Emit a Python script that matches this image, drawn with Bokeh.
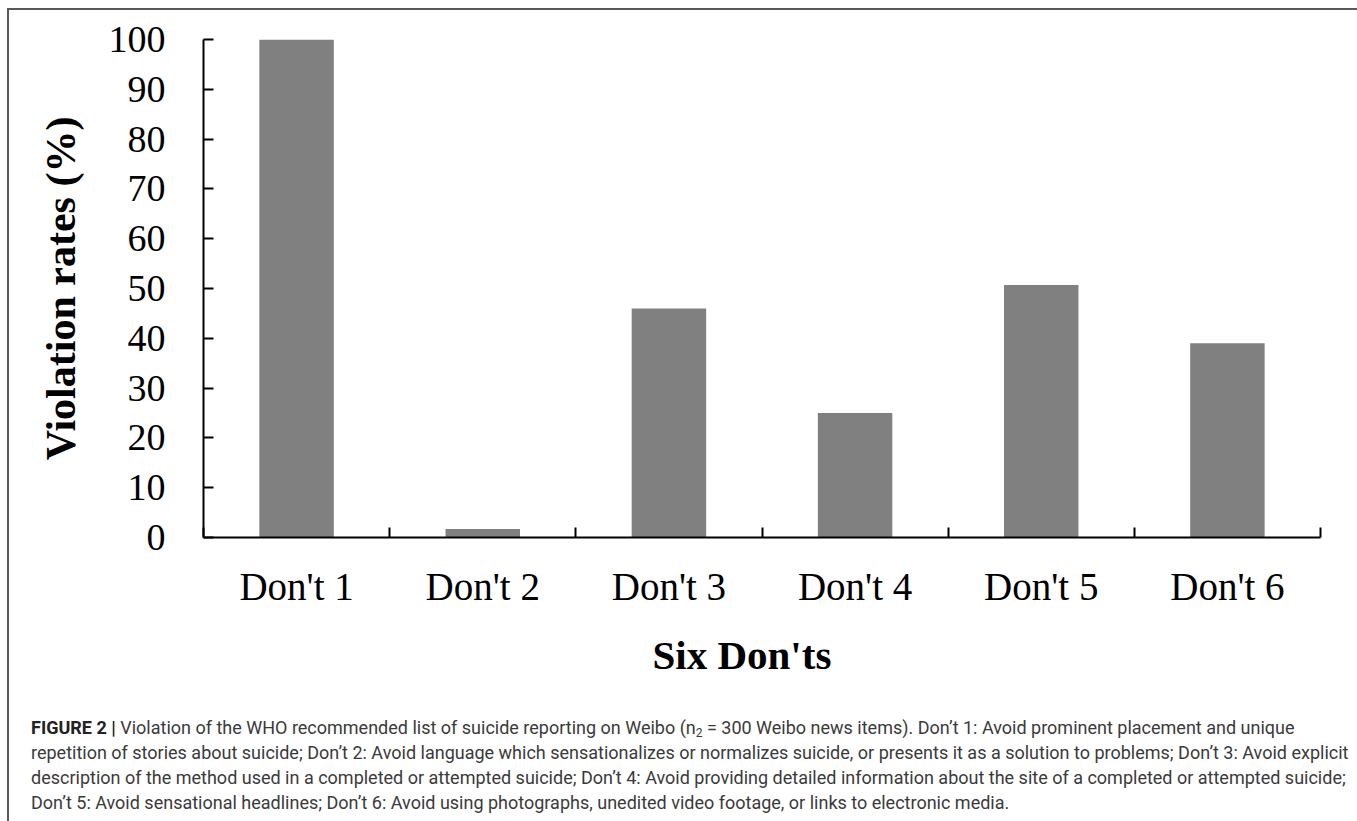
from bokeh.plotting import figure
from bokeh.models import Range1d, FixedTicker, Div, ColumnDataSource, Title
from bokeh.layouts import column
from bokeh.embed import file_html
from bokeh.resources import INLINE

# ---- data ----
categories = ["Don't 1", "Don't 2", "Don't 3", "Don't 4", "Don't 5", "Don't 6"]
violation_rates = [100, 1.7, 46, 25, 50.7, 39]
y_ticks = [0, 10, 20, 30, 40, 50, 60, 70, 80, 90, 100]
x_title = "Six Don'ts"
y_title = "Violation rates (%)"
caption_lines = [
    ("FIGURE 2 |", " Violation of the WHO recommended list of suicide reporting on Weibo (n<sub>2</sub> = 300 Weibo news items). Don\u2019t 1: Avoid prominent placement and unique"),
    ("", "repetition of stories about suicide; Don\u2019t 2: Avoid language which sensationalizes or normalizes suicide, or presents it as a solution to problems; Don\u2019t 3: Avoid explicit"),
    ("", "description of the method used in a completed or attempted suicide; Don\u2019t 4: Avoid providing detailed information about the site of a completed or attempted suicide;"),
    ("", "Don\u2019t 5: Avoid sensational headlines; Don\u2019t 6: Avoid using photographs, unedited video footage, or links to electronic media."),
]

positions = [i + 0.5 for i in range(len(categories))]
src = ColumnDataSource(dict(x=positions, top=violation_rates, cat=categories))

W = 1345
p = figure(width=W, height=690,
           x_range=Range1d(0, len(categories)), y_range=Range1d(0, 100),
           output_backend="svg", toolbar_location=None,
           min_border_left=194, min_border_right=34,
           min_border_top=29, min_border_bottom=163)
p.vbar(x="x", top="top", bottom=0, width=0.4, source=src,
       fill_color="#808080", line_color=None)

p.xgrid.visible = False
p.ygrid.visible = False
p.outline_line_color = None
p.background_fill_color = "white"
p.border_fill_color = "white"

# x axis
xa = p.xaxis[0]
xa.ticker = FixedTicker(ticks=positions, minor_ticks=list(range(len(categories) + 1)))
xa.major_label_overrides = {pos: cat for pos, cat in zip(positions, categories)}
xa.major_tick_in = 0
xa.major_tick_out = 0
xa.minor_tick_in = 10
xa.minor_tick_out = 0
xa.minor_tick_line_width = 2
xa.minor_tick_line_color = "black"
xa.axis_line_width = 2
xa.axis_line_color = "black"
xa.major_label_text_font = "Liberation Serif"
xa.major_label_text_font_size = "39px"
xa.major_label_text_color = "black"
xa.major_label_standoff = 27

# x title (slightly left of the frame centre, as in the reference)
xt = Title(text=x_title, align="left", offset=449, standoff=38,
           text_font="Liberation Serif", text_font_style="bold",
           text_font_size="41px", text_color="black")
p.add_layout(xt, "below")

# y axis
ya = p.yaxis[0]
ya.ticker = FixedTicker(ticks=y_ticks)
ya.major_tick_in = 10
ya.major_tick_out = 0
ya.major_tick_line_width = 2
ya.major_tick_line_color = "black"
ya.minor_tick_line_color = None
ya.axis_line_width = 2
ya.axis_line_color = "black"
ya.major_label_text_font = "Liberation Serif"
ya.major_label_text_font_size = "38px"
ya.major_label_text_color = "black"
ya.major_label_standoff = 38
ya.axis_label = y_title
ya.axis_label_text_font = "Liberation Serif"
ya.axis_label_text_font_style = "bold"
ya.axis_label_text_font_size = "42px"
ya.axis_label_text_color = "black"
ya.axis_label_standoff = 22

html_lines = []
for bold, rest in caption_lines:
    b = f"<b style='font-weight:700;color:#222'>{bold}</b>" if bold else ""
    html_lines.append(b + rest)
caption_html = (
    "<div style=\"font-family:'Roboto';font-size:18px;line-height:25px;color:#3a3a3a;"
    "white-space:nowrap;\">"
    + "<br>".join(html_lines).replace(
        "<sub>", "<span style='font-size:12px;line-height:0;vertical-align:-3px'>").replace("</sub>", "</span>")
    + "</div>"
)
div = Div(text=caption_html, width=W, height=118,
          styles={"padding-left": "17px", "padding-top": "10px",
                  "box-sizing": "border-box", "overflow": "hidden"})

layout = column(p, div, margin=(8, 0, 0, 7),
                styles={"border-top": "2px solid #595959",
                        "border-left": "2px solid #595959",
                        "border-right": "2px solid #595959"})
open("out.html", "w").write(file_html(layout, INLINE))
